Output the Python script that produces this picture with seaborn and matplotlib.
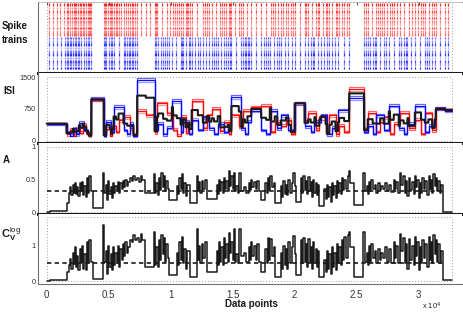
import numpy as np
import pandas as pd
import matplotlib
matplotlib.use('Agg')
import matplotlib.pyplot as plt
import seaborn as sns

# time axis in units of 10^4 data points

# red population: spike times (step edges) and ISI of three trains
red_edges = [0, 0.16, 0.19, 0.22, 0.24, 0.27, 0.29, 0.32, 0.34, 0.36,
             0.46, 0.48, 0.51, 0.53, 0.56, 0.58, 0.62, 0.67, 0.70, 0.73,
             0.80, 0.87, 0.89, 0.97, 1.02, 1.05, 1.08, 1.12, 1.14, 1.17,
             1.26, 1.29, 1.33, 1.40, 1.43, 1.47, 1.49, 1.55, 1.58, 1.65,
             1.73, 1.81, 1.84, 1.89, 1.93, 1.97, 2.00, 2.08, 2.11, 2.17,
             2.20, 2.25, 2.28, 2.33, 2.36, 2.40, 2.44, 2.56, 2.59, 2.66,
             2.69, 2.72, 2.77, 2.80, 2.85, 2.92, 2.97, 3.02, 3.05, 3.11,
             3.14, 3.21, 3.27]
red_isi_1 = [420, 150, 250, 120, 300, 180, 380, 200, 100,
             960, 150, 280, 100, 350, 200, 480, 560, 300, 150,
             700, 600, 200, 880, 650, 250, 120, 560, 180, 400,
             950, 300, 600, 750, 220, 450, 150, 600, 350, 700,
             790, 830, 200, 450, 350, 500, 150, 880, 500, 650,
             250, 550, 180, 600, 150, 350, 200, 1220, 300, 660,
             200, 450, 550, 150, 400, 660, 300, 500, 150, 650,
             250, 750, 750]
red_isi_2 = [400, 120, 300, 150, 260, 220, 420, 160, 130,
             1000, 120, 320, 140, 300, 240, 520, 600, 260, 190,
             740, 640, 160, 920, 600, 300, 150, 600, 220, 360,
             990, 260, 640, 800, 260, 420, 190, 640, 300, 740,
             830, 870, 240, 410, 390, 460, 190, 920, 460, 700,
             290, 500, 220, 640, 120, 390, 240, 1280, 260, 700,
             240, 410, 590, 190, 440, 700, 260, 540, 190, 690,
             210, 790, 700]
red_isi_3 = [410, 180, 220, 100, 330, 150, 350, 230, 90,
             930, 180, 250, 120, 380, 170, 450, 520, 330, 120,
             660, 560, 230, 850, 690, 220, 100, 530, 150, 430,
             920, 330, 570, 720, 190, 480, 130, 570, 380, 670,
             760, 800, 170, 480, 320, 530, 130, 850, 530, 620,
             220, 580, 150, 570, 170, 320, 170, 1180, 330, 630,
             170, 480, 520, 130, 370, 630, 330, 470, 130, 620,
             280, 720, 780]
# further red spikes seen only in the raster
red_extra = [0.02, 0.05, 0.08, 0.11, 0.14, 0.175, 0.205, 0.23, 0.255, 0.28,
             0.305, 0.33, 0.35, 0.47, 0.495, 0.52, 0.545, 0.57, 0.60, 0.64,
             0.655, 0.685, 0.715, 0.76, 0.835, 0.88, 0.93, 0.995, 1.035, 1.065,
             1.10, 1.13, 1.155, 1.215, 1.275, 1.31, 1.365, 1.415, 1.45, 1.48,
             1.52, 1.565, 1.615, 1.69, 1.77, 1.825, 1.865, 1.91, 1.95, 1.985,
             2.04, 2.095, 2.14, 2.185, 2.225, 2.265, 2.305, 2.345, 2.38, 2.42,
             2.575, 2.625, 2.675, 2.705, 2.745, 2.785, 2.825, 2.885, 2.945,
             2.995, 3.035, 3.08, 3.125, 3.175, 3.24]

# blue population
blue_edges = [0, 0.16, 0.19, 0.21, 0.24, 0.26, 0.30, 0.33, 0.36, 0.46,
              0.48, 0.52, 0.54, 0.62, 0.65, 0.67, 0.70, 0.73, 0.87, 0.90,
              0.94, 0.97, 1.01, 1.08, 1.10, 1.15, 1.17, 1.22, 1.26, 1.31,
              1.35, 1.38, 1.43, 1.46, 1.49, 1.57, 1.60, 1.62, 1.65, 1.73,
              1.77, 1.80, 1.86, 1.89, 1.95, 2.00, 2.08, 2.13, 2.16, 2.21,
              2.26, 2.30, 2.35, 2.44, 2.56, 2.59, 2.63, 2.66, 2.72, 2.76,
              2.84, 2.88, 2.91, 2.97, 3.05, 3.08, 3.13, 3.21, 3.27]
blue_isi_1 = [400, 200, 120, 300, 150, 420, 250, 130,
              990, 100, 450, 200, 800, 250, 150, 400, 100,
              1430, 250, 400, 150, 300,
              940, 200, 450, 150, 500, 250, 550, 300, 150, 400, 200, 300,
              1030, 300, 150, 450, 700, 250, 150, 700, 300, 600, 250,
              880, 350, 200, 450, 600, 150, 300, 720,
              1010, 200, 350, 150, 600, 250, 830, 300, 150, 400,
              830, 200, 350, 750, 700]
blue_isi_2 = [380, 230, 150, 270, 180, 460, 220, 160,
              1040, 130, 490, 170, 840, 220, 180, 440, 130,
              1480, 220, 440, 120, 340,
              980, 170, 490, 180, 460, 280, 590, 260, 180, 440, 170, 340,
              1080, 260, 180, 490, 740, 220, 180, 740, 260, 640, 220,
              920, 310, 230, 490, 640, 120, 340, 760,
              1060, 170, 390, 180, 640, 220, 870, 260, 180, 440,
              870, 170, 390, 790, 740]
blue_isi_3 = [410, 170, 100, 330, 120, 390, 280, 110,
              950, 80, 420, 230, 760, 280, 120, 370, 80,
              1390, 280, 370, 180, 270,
              900, 230, 420, 130, 530, 220, 520, 330, 130, 370, 230, 270,
              990, 330, 130, 420, 670, 280, 130, 670, 330, 570, 280,
              850, 380, 180, 420, 570, 180, 270, 690,
              970, 230, 320, 130, 570, 280, 790, 330, 130, 370,
              800, 230, 320, 720, 670]
blue_extra = [0.02, 0.05, 0.085, 0.115, 0.145, 0.175, 0.20, 0.225, 0.25, 0.28,
              0.315, 0.345, 0.47, 0.50, 0.53, 0.58, 0.635, 0.66, 0.685, 0.715,
              0.885, 0.92, 0.955, 0.99, 1.045, 1.09, 1.125, 1.16, 1.195, 1.24,
              1.285, 1.33, 1.365, 1.405, 1.445, 1.475, 1.53, 1.585, 1.61, 1.635,
              1.69, 1.75, 1.785, 1.83, 1.875, 1.92, 1.975, 2.04, 2.105, 2.145,
              2.185, 2.235, 2.28, 2.325, 2.40, 2.575, 2.61, 2.645, 2.69, 2.74,
              2.80, 2.86, 2.895, 2.94, 3.01, 3.065, 3.105, 3.17, 3.24]

# A and C_V^log measures (step starts, values)
ac_t = [0.00, 0.03, 0.07, 0.10, 0.13, 0.16, 0.18, 0.19, 0.20, 0.21,
        0.22, 0.23, 0.235, 0.245, 0.255, 0.265, 0.275, 0.285, 0.295, 0.305,
        0.315, 0.325, 0.335, 0.345, 0.355, 0.37, 0.455, 0.465, 0.475, 0.485,
        0.495, 0.505, 0.515, 0.525, 0.535, 0.545, 0.555, 0.565, 0.575, 0.585,
        0.595, 0.605, 0.615, 0.625, 0.635, 0.645, 0.655, 0.67, 0.69, 0.70,
        0.71, 0.73, 0.745, 0.76, 0.77, 0.79, 0.865, 0.875, 0.885, 0.895,
        0.905, 0.915, 0.925, 0.935, 0.945, 0.955, 0.965, 0.975, 0.99, 1.05,
        1.06, 1.07, 1.08, 1.09, 1.10, 1.11, 1.12, 1.13, 1.155, 1.21,
        1.22, 1.23, 1.24, 1.25, 1.26, 1.275, 1.29, 1.37, 1.38, 1.39,
        1.40, 1.41, 1.42, 1.43, 1.44, 1.45, 1.46, 1.47, 1.48, 1.49,
        1.50, 1.51, 1.52, 1.53, 1.545, 1.555, 1.565, 1.59, 1.61, 1.63,
        1.64, 1.65, 1.66, 1.675, 1.69, 1.70, 1.715, 1.73, 1.765, 1.775,
        1.785, 1.795, 1.805, 1.815, 1.83, 1.845, 1.89, 1.90, 1.91, 1.92,
        1.93, 1.94, 1.95, 1.96, 1.975, 1.99, 2.00, 2.015, 2.05, 2.06,
        2.07, 2.08, 2.09, 2.10, 2.11, 2.12, 2.13, 2.14, 2.15, 2.16,
        2.17, 2.18, 2.19, 2.20, 2.24, 2.25, 2.26, 2.27, 2.28, 2.29,
        2.30, 2.31, 2.32, 2.33, 2.34, 2.35, 2.36, 2.37, 2.38, 2.39,
        2.40, 2.415, 2.43, 2.44, 2.45, 2.48, 2.555, 2.565, 2.58, 2.59,
        2.60, 2.61, 2.62, 2.63, 2.645, 2.66, 2.675, 2.69, 2.70, 2.715,
        2.73, 2.745, 2.76, 2.78, 2.80, 2.81, 2.82, 2.83, 2.85, 2.86,
        2.875, 2.89, 2.90, 2.91, 2.92, 2.93, 2.945, 2.96, 2.97, 2.98,
        2.99, 3.00, 3.01, 3.02, 3.03, 3.04, 3.055, 3.07, 3.08, 3.09,
        3.10, 3.11, 3.12, 3.13, 3.14, 3.15, 3.16, 3.17, 3.18, 3.195]
a_vals = [0.00, 0.02, 0.015, 0.025, 0.02, 0.14, 0.30, 0.38, 0.26, 0.42,
          0.30, 0.45, 0.28, 0.38, 0.25, 0.44, 0.32, 0.47, 0.27, 0.40,
          0.24, 0.52, 0.30, 0.55, 0.33, 0.06, 0.60, 0.30, 0.42, 0.18,
          0.48, 0.28, 0.38, 0.22, 0.45, 0.30, 0.40, 0.34, 0.46, 0.30,
          0.44, 0.36, 0.48, 0.38, 0.50, 0.40, 0.46, 0.52, 0.48, 0.55,
          0.50, 0.53, 0.46, 0.55, 0.50, 0.29, 0.58, 0.30, 0.45, 0.27,
          0.52, 0.34, 0.60, 0.38, 0.55, 0.32, 0.48, 0.36, 0.19, 0.40,
          0.28, 0.52, 0.35, 0.58, 0.30, 0.45, 0.25, 0.42, 0.14, 0.55,
          0.33, 0.46, 0.30, 0.48, 0.36, 0.50, 0.20, 0.42, 0.28, 0.50,
          0.33, 0.46, 0.30, 0.53, 0.36, 0.48, 0.32, 0.63, 0.40, 0.55,
          0.35, 0.60, 0.32, 0.40, 0.30, 0.60, 0.32, 0.38, 0.30, 0.45,
          0.34, 0.50, 0.38, 0.46, 0.36, 0.48, 0.32, 0.19, 0.45, 0.30,
          0.52, 0.34, 0.55, 0.38, 0.45, 0.14, 0.40, 0.24, 0.48, 0.28,
          0.42, 0.26, 0.50, 0.30, 0.45, 0.60, 0.40, 0.16, 0.52, 0.30,
          0.55, 0.34, 0.48, 0.28, 0.54, 0.32, 0.46, 0.24, 0.50, 0.30,
          0.44, 0.26, 0.42, 0.09, 0.36, 0.20, 0.42, 0.24, 0.38, 0.16,
          0.45, 0.26, 0.40, 0.22, 0.48, 0.30, 0.44, 0.28, 0.52, 0.34,
          0.50, 0.36, 0.55, 0.63, 0.45, 0.11, 0.60, 0.33, 0.40, 0.28,
          0.46, 0.32, 0.50, 0.35, 0.42, 0.30, 0.44, 0.34, 0.40, 0.36,
          0.45, 0.33, 0.42, 0.31, 0.50, 0.36, 0.46, 0.30, 0.60, 0.42,
          0.55, 0.30, 0.48, 0.25, 0.52, 0.34, 0.46, 0.28, 0.56, 0.38,
          0.50, 0.22, 0.45, 0.30, 0.53, 0.35, 0.48, 0.26, 0.55, 0.36,
          0.50, 0.30, 0.58, 0.40, 0.52, 0.33, 0.48, 0.30, 0.42, 0.01]
cv_vals = [0.00, 0.02, 0.03, 0.03, 0.04, 0.26, 0.45, 0.62, 0.35, 0.80,
           0.48, 0.95, 0.40, 0.70, 0.30, 0.90, 0.55, 1.00, 0.35, 0.75,
           0.30, 1.10, 0.50, 1.15, 0.55, 0.05, 1.57, 0.55, 0.85, 0.20,
           1.00, 0.40, 0.75, 0.30, 0.95, 0.45, 0.80, 0.55, 1.00, 0.40,
           0.90, 0.60, 1.05, 0.70, 1.10, 0.80, 0.95, 1.15, 1.10, 1.30,
           1.15, 1.20, 1.10, 1.34, 1.15, 0.40, 1.38, 0.45, 0.95, 0.40,
           1.15, 0.60, 1.30, 0.75, 1.20, 0.55, 1.05, 0.65, 0.17, 0.80,
           0.45, 1.10, 0.60, 1.24, 0.50, 0.90, 0.35, 0.85, 0.12, 1.48,
           0.60, 1.00, 0.50, 1.05, 0.65, 1.10, 0.26, 0.85, 0.45, 1.10,
           0.55, 0.95, 0.45, 1.20, 0.65, 1.05, 0.55, 1.35, 0.80, 1.10,
           0.60, 1.48, 0.55, 0.75, 0.50, 1.48, 0.70, 0.80, 0.55, 0.95,
           0.60, 1.10, 0.70, 1.00, 0.60, 1.05, 0.55, 0.26, 0.90, 0.50,
           1.20, 0.60, 1.18, 0.70, 0.95, 0.12, 0.80, 0.35, 1.00, 0.45,
           0.90, 0.35, 1.10, 0.50, 0.95, 1.28, 0.75, 0.17, 1.15, 0.50,
           1.20, 0.55, 1.05, 0.40, 1.18, 0.55, 0.95, 0.35, 1.10, 0.50,
           0.90, 0.40, 0.85, 0.10, 0.60, 0.25, 0.85, 0.35, 0.75, 0.20,
           0.95, 0.40, 0.80, 0.30, 1.05, 0.50, 0.95, 0.45, 1.15, 0.60,
           1.25, 0.65, 1.30, 1.38, 0.95, 0.12, 1.38, 0.55, 0.80, 0.45,
           1.00, 0.55, 1.05, 0.65, 0.85, 0.50, 0.90, 0.60, 0.80, 0.65,
           0.95, 0.55, 0.90, 0.50, 1.10, 0.65, 1.00, 0.50, 1.34, 0.85,
           1.20, 0.50, 1.05, 0.35, 1.18, 0.60, 1.00, 0.45, 1.25, 0.70,
           1.10, 0.30, 0.95, 0.50, 1.15, 0.65, 1.05, 0.40, 1.25, 0.60,
           1.10, 0.50, 1.30, 0.75, 1.15, 0.55, 1.05, 0.50, 0.85, 0.03]
a_level = 0.32
cv_level = 0.51
t_end = 3.27
level_end = 3.2

x_ticks = [0, 0.5, 1, 1.5, 2, 2.5, 3]
x_ticklabels = ['0', '0.5', '1', '1.5', '2', '2.5', '3']

assert len(a_vals) == len(ac_t) == len(cv_vals)
red_trains = [red_isi_1, red_isi_2, red_isi_3]
blue_trains = [blue_isi_1, blue_isi_2, blue_isi_3]
for v in red_trains:
    assert len(v) == len(red_edges) - 1
for v in blue_trains:
    assert len(v) == len(blue_edges) - 1

sns.set_theme(style='white')
plt.rcParams['font.family'] = ['Liberation Sans', 'DejaVu Sans']
plt.rcParams['mathtext.fontset'] = 'custom'
plt.rcParams['mathtext.rm'] = 'Liberation Sans'
plt.rcParams['mathtext.bf'] = 'Liberation Sans:bold'
plt.rcParams['mathtext.it'] = 'Liberation Sans:italic'

W, H = 463, 314
fig = plt.figure(figsize=(W / 100, H / 100), dpi=100)
gs = fig.add_gridspec(4, 1, left=38 / W, right=462 / W, top=1 - 2 / H,
                      bottom=1 - 284 / H, hspace=0)
axs = [fig.add_subplot(gs[i]) for i in range(4)]

RED, BLUE = '#ff0000', '#0000ff'
grey = '#707070'
dot_kw = dict(colors='#a0a0a0', linestyles=(0, (1, 2)), lw=0.7, zorder=0)

# --- spike raster
ax = axs[0]
row_alpha = [0.85, 0.45, 0.7, 0.35, 0.8, 0.5, 0.3, 0.75, 0.45, 0.6]
red_spikes = sorted(red_edges[1:-1] + red_extra)
blue_spikes = sorted(blue_edges[1:-1] + blue_extra)
for k, a in enumerate(row_alpha):
    ax.vlines(blue_spikes, k + 0.1, k + 0.85, color=BLUE, lw=0.9, alpha=a)
    ax.vlines(red_spikes, 10 + k + 0.1, 10 + k + 0.85, color=RED, lw=0.9,
              alpha=row_alpha[::-1][k])
ax.set_ylim(-0.9, 20.3)
ax.set_yticks([])
ax.hlines([20.2], 0, t_end, **dot_kw)
ax.vlines([0, t_end], -0.9, 20.3, **dot_kw)

# --- ISI
ax = axs[1]
isi_alpha = [0.95, 0.6, 0.4]
for vals, a in zip(red_trains, isi_alpha):
    df = pd.DataFrame({'t': red_edges, 'isi': vals + vals[-1:]})
    sns.lineplot(data=df, x='t', y='isi', drawstyle='steps-post', color=RED,
                 alpha=a, lw=0.9, ax=ax, estimator=None, sort=False)
for vals, a in zip(blue_trains, isi_alpha):
    df = pd.DataFrame({'t': blue_edges, 'isi': vals + vals[-1:]})
    sns.lineplot(data=df, x='t', y='isi', drawstyle='steps-post', color=BLUE,
                 alpha=a, lw=0.9, ax=ax, estimator=None, sort=False)

grid = np.arange(0, t_end, 0.001)


def sample(edges, vals):
    i = np.searchsorted(edges, grid, side='right') - 1
    return np.asarray(vals)[np.clip(i, 0, len(vals) - 1)]


mean_isi = np.mean([sample(red_edges, v) for v in red_trains] +
                   [sample(blue_edges, v) for v in blue_trains], axis=0)
sns.lineplot(x=grid, y=mean_isi, color='k', lw=1.5, ax=ax, estimator=None,
             sort=False)
ax.set_ylim(-56, 1614)
ax.set_yticks([0, 750, 1500])
ax.hlines([0, 1500], 0, t_end, **dot_kw)
ax.vlines([0, t_end], 0, 1500, **dot_kw)

# --- A
ax = axs[2]
sns.lineplot(x=ac_t + [t_end], y=a_vals + a_vals[-1:], drawstyle='steps-post',
             color='k', lw=1.1, ax=ax, estimator=None, sort=False)
ax.hlines(a_level, 0, level_end, colors='k', linestyles=(0, (2.6, 2.0)), lw=1.2)
ax.set_ylim(-0.02, 1.06)
ax.set_yticks([0, 0.5, 1])
ax.set_yticklabels(['0', '0.5', '1'])
ax.hlines([0, 1], 0, t_end, **dot_kw)
ax.vlines([0, t_end], 0, 1, **dot_kw)

# --- C_V^log
ax = axs[3]
sns.lineplot(x=ac_t + [t_end], y=cv_vals + cv_vals[-1:], drawstyle='steps-post',
             color='k', lw=1.1, ax=ax, estimator=None, sort=False)
ax.hlines(cv_level, 0, level_end, colors='k', linestyles=(0, (2.6, 2.0)), lw=1.2)
ax.set_ylim(-0.084, 1.905)
ax.set_yticks([0, 1])
ax.set_yticklabels(['0', '1'])
ax.hlines([0, 1.82], 0, t_end, **dot_kw)
ax.vlines([0, t_end], 0, 1.82, **dot_kw)

for i, ax in enumerate(axs):
    ax.set_xlim(-0.07, 3.35)
    ax.set_xticks(x_ticks)
    ax.set_xlabel('')
    ax.set_ylabel('')
    ax.tick_params(axis='both', direction='in', length=2.5, width=0.6,
                   colors='#333333', pad=1.5, labelsize=5.3)
    ax.spines['right'].set_visible(False)
    ax.spines['left'].set_color(grey)
    ax.spines['left'].set_linewidth(0.8)
    if i == 0:
        ax.spines['top'].set_color('#a0a0a0')
        ax.spines['top'].set_linestyle((0, (1, 2)))
        ax.spines['top'].set_linewidth(0.7)
        ax.tick_params(axis='x', top=True)
    else:
        ax.spines['top'].set_visible(False)
    if i < 3:
        ax.spines['bottom'].set_color('k')
        ax.spines['bottom'].set_linewidth(2.2)
        ax.spines['bottom'].set_zorder(5)
        ax.set_xticklabels([])
    else:
        ax.spines['bottom'].set_color(grey)
        ax.spines['bottom'].set_linewidth(0.8)
        ax.set_xticklabels(x_ticklabels)
        ax.tick_params(axis='x', labelsize=7, pad=4)


def px(x, y):
    return x / W, 1 - y / H


lab = dict(fontsize=7, fontweight='bold', ha='left', va='center', color='k')
fig.text(*px(2, 33), 'Spike\ntrains', linespacing=1.5, **lab)
fig.text(*px(3, 91), 'ISI', **lab)
fig.text(*px(3, 160), 'A', **lab)
fig.text(*px(1, 234), r'$\mathbf{C}_{\mathbf{V}}^{\mathrm{log}}$', fontsize=8,
         ha='left', va='center', color='k')
fig.text(*px(251, 304), 'Data points', fontsize=7, fontweight='bold',
         ha='center', va='center', color='k')
fig.text(*px(422, 306), r'x 10$^4$', fontsize=5.5, ha='left', va='center')

fig.savefig('out.png', dpi=100)
